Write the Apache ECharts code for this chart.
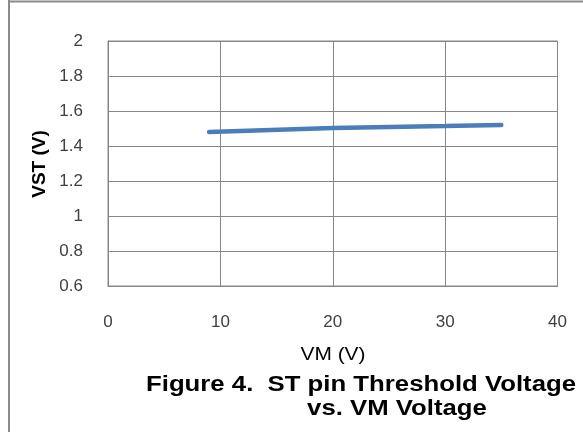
<!DOCTYPE html>
<html>
<head>
<meta charset="utf-8">
<script src="https://cdn.jsdelivr.net/npm/echarts@6/dist/echarts.min.js"></script>
<style>
html,body{margin:0;padding:0;background:#fff;}
#c{width:583px;height:432px;}
</style>
</head>
<body>
<div id="c"></div>
<script>
const vmValues = [9, 20, 30, 35];
const vstValues = [1.48, 1.503, 1.514, 1.52];
const xTicks = [0, 10, 20, 30, 40];
const yTicks = [0.6, 0.8, 1, 1.2, 1.4, 1.6, 1.8, 2];
const xTitle = 'VM (V)';
const yTitle = 'VST (V)';
const captionLine1 = 'Figure 4.  ST pin Threshold Voltage';
const captionLine2 = 'vs. VM Voltage';

const chart = echarts.init(document.getElementById('c'), null, {renderer: 'canvas'});
const gridColor = '#878787';
const labelColor = '#404040';
const font = 'Liberation Sans, Arial, sans-serif';

chart.setOption({
  animation: false,
  backgroundColor: '#fff',
  grid: {left: 108, right: 25.5, top: 41, bottom: 146, show: true, borderColor: gridColor, borderWidth: 1},
  xAxis: {
    type: 'value', min: xTicks[0], max: xTicks[xTicks.length - 1], interval: 10,
    axisLine: {show: true, lineStyle: {color: gridColor, width: 1}},
    axisTick: {show: false},
    splitLine: {show: true, lineStyle: {color: gridColor, width: 1}},
    axisLabel: {color: labelColor, fontSize: 17, fontFamily: font, margin: 28}
  },
  yAxis: {
    type: 'value', min: yTicks[0], max: yTicks[yTicks.length - 1], interval: 0.2,
    axisLine: {show: true, lineStyle: {color: gridColor, width: 1}},
    axisTick: {show: false},
    splitLine: {show: true, lineStyle: {color: gridColor, width: 1}},
    axisLabel: {color: labelColor, fontSize: 17, fontFamily: font, margin: 25,
      formatter: v => String(Math.round(v * 10) / 10)}
  },
  series: [{
    type: 'line',
    data: vmValues.map((x, i) => [x, vstValues[i]]),
    showSymbol: false,
    symbol: 'none',
    lineStyle: {color: '#4A7EBB', width: 4.5, cap: 'round'},
    z: 5
  }],
  graphic: [
    {type: 'line', shape: {x1: 9, y1: 0, x2: 9, y2: 432}, style: {stroke: '#8a8a8a', lineWidth: 2}},
    {type: 'line', shape: {x1: 8, y1: 1.5, x2: 583, y2: 1.5}, style: {stroke: '#8a8a8a', lineWidth: 2}},
    {type: 'text', x: 333, y: 355, scaleX: 1.1, style: {text: xTitle, font: '19px ' + font, fill: '#000', textAlign: 'center', textVerticalAlign: 'middle'}},
    {type: 'text', x: 40, y: 164, rotation: Math.PI / 2, style: {text: yTitle, font: 'bold 19px ' + font, fill: '#000', textAlign: 'center', textVerticalAlign: 'middle'}},
    {type: 'text', x: 361, y: 385, scaleX: 1.17, style: {text: captionLine1, font: 'bold 22px ' + font, fill: '#000', textAlign: 'center', textVerticalAlign: 'middle'}},
    {type: 'text', x: 397, y: 409, scaleX: 1.17, style: {text: captionLine2, font: 'bold 22px ' + font, fill: '#000', textAlign: 'center', textVerticalAlign: 'middle'}}
  ]
});
</script>
</body>
</html>
